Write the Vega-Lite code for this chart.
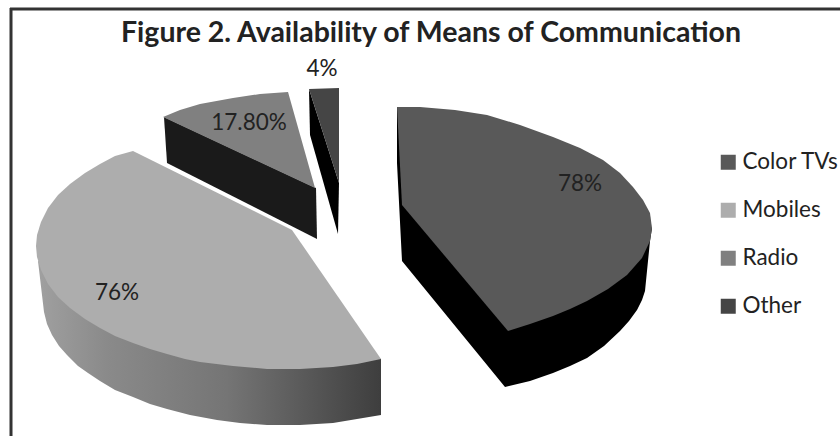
{
  "$schema": "https://vega.github.io/schema/vega-lite/v6.json",
  "width": 840,
  "height": 436,
  "padding": 0,
  "autosize": {"type": "none"},
  "background": "white",
  "view": {"stroke": null},
  "title": {
    "text": "Figure 2. Availability of Means of Communication",
    "font": "Lato",
    "fontWeight": "bold",
    "fontSize": 28.5,
    "color": "#222222",
    "anchor": "middle",
    "offset": -47,
    "dx": 11
  },
  "config": {"font": "Lato"},
  "datasets": {
    "outlines": [
      {"slice":"Color TVs","part":"side","seq":1,"x":397,"y":107},
      {"slice":"Color TVs","part":"side","seq":2,"x":397,"y":163},
      {"slice":"Color TVs","part":"side","seq":3,"x":402,"y":261},
      {"slice":"Color TVs","part":"side","seq":4,"x":505,"y":387},
      {"slice":"Color TVs","part":"side","seq":5,"x":530,"y":381},
      {"slice":"Color TVs","part":"side","seq":6,"x":553,"y":373},
      {"slice":"Color TVs","part":"side","seq":7,"x":570,"y":366},
      {"slice":"Color TVs","part":"side","seq":8,"x":587,"y":358},
      {"slice":"Color TVs","part":"side","seq":9,"x":604,"y":346},
      {"slice":"Color TVs","part":"side","seq":10,"x":620,"y":331},
      {"slice":"Color TVs","part":"side","seq":11,"x":629,"y":321},
      {"slice":"Color TVs","part":"side","seq":12,"x":637,"y":310},
      {"slice":"Color TVs","part":"side","seq":13,"x":642,"y":300},
      {"slice":"Color TVs","part":"side","seq":14,"x":645,"y":291},
      {"slice":"Color TVs","part":"side","seq":15,"x":650,"y":241},
      {"slice":"Color TVs","part":"side","seq":16,"x":652,"y":228},

      {"slice":"Color TVs","part":"top","seq":1,"x":397,"y":107},
      {"slice":"Color TVs","part":"top","seq":2,"x":420,"y":107},
      {"slice":"Color TVs","part":"top","seq":3,"x":455,"y":110},
      {"slice":"Color TVs","part":"top","seq":4,"x":487,"y":115},
      {"slice":"Color TVs","part":"top","seq":5,"x":520,"y":125},
      {"slice":"Color TVs","part":"top","seq":6,"x":553,"y":137},
      {"slice":"Color TVs","part":"top","seq":7,"x":580,"y":148},
      {"slice":"Color TVs","part":"top","seq":8,"x":603,"y":160},
      {"slice":"Color TVs","part":"top","seq":9,"x":620,"y":173},
      {"slice":"Color TVs","part":"top","seq":10,"x":633,"y":187},
      {"slice":"Color TVs","part":"top","seq":11,"x":643,"y":200},
      {"slice":"Color TVs","part":"top","seq":12,"x":650,"y":213},
      {"slice":"Color TVs","part":"top","seq":13,"x":652,"y":228},
      {"slice":"Color TVs","part":"top","seq":14,"x":650,"y":241},
      {"slice":"Color TVs","part":"top","seq":15,"x":642,"y":258},
      {"slice":"Color TVs","part":"top","seq":16,"x":627,"y":275},
      {"slice":"Color TVs","part":"top","seq":17,"x":608,"y":289},
      {"slice":"Color TVs","part":"top","seq":18,"x":587,"y":301},
      {"slice":"Color TVs","part":"top","seq":19,"x":570,"y":309},
      {"slice":"Color TVs","part":"top","seq":20,"x":553,"y":316},
      {"slice":"Color TVs","part":"top","seq":21,"x":530,"y":324},
      {"slice":"Color TVs","part":"top","seq":22,"x":508,"y":331},
      {"slice":"Color TVs","part":"top","seq":23,"x":402,"y":205},

      {"slice":"Mobiles","part":"side","seq":1,"x":38,"y":261},
      {"slice":"Mobiles","part":"side","seq":2,"x":44,"y":312},
      {"slice":"Mobiles","part":"side","seq":3,"x":47,"y":324},
      {"slice":"Mobiles","part":"side","seq":4,"x":52,"y":335},
      {"slice":"Mobiles","part":"side","seq":5,"x":59,"y":346},
      {"slice":"Mobiles","part":"side","seq":6,"x":67,"y":355},
      {"slice":"Mobiles","part":"side","seq":7,"x":78,"y":366},
      {"slice":"Mobiles","part":"side","seq":8,"x":88,"y":373},
      {"slice":"Mobiles","part":"side","seq":9,"x":100,"y":381},
      {"slice":"Mobiles","part":"side","seq":10,"x":115,"y":390},
      {"slice":"Mobiles","part":"side","seq":11,"x":133,"y":397},
      {"slice":"Mobiles","part":"side","seq":12,"x":150,"y":404},
      {"slice":"Mobiles","part":"side","seq":13,"x":167,"y":409},
      {"slice":"Mobiles","part":"side","seq":14,"x":190,"y":415},
      {"slice":"Mobiles","part":"side","seq":15,"x":217,"y":420},
      {"slice":"Mobiles","part":"side","seq":16,"x":240,"y":423},
      {"slice":"Mobiles","part":"side","seq":17,"x":267,"y":425},
      {"slice":"Mobiles","part":"side","seq":18,"x":300,"y":425},
      {"slice":"Mobiles","part":"side","seq":19,"x":333,"y":423},
      {"slice":"Mobiles","part":"side","seq":20,"x":357,"y":419},
      {"slice":"Mobiles","part":"side","seq":21,"x":381,"y":415},
      {"slice":"Mobiles","part":"side","seq":22,"x":381,"y":359},

      {"slice":"Mobiles","part":"top","seq":1,"x":133,"y":151},
      {"slice":"Mobiles","part":"top","seq":2,"x":115,"y":156},
      {"slice":"Mobiles","part":"top","seq":3,"x":100,"y":164},
      {"slice":"Mobiles","part":"top","seq":4,"x":85,"y":173},
      {"slice":"Mobiles","part":"top","seq":5,"x":70,"y":184},
      {"slice":"Mobiles","part":"top","seq":6,"x":58,"y":195},
      {"slice":"Mobiles","part":"top","seq":7,"x":48,"y":208},
      {"slice":"Mobiles","part":"top","seq":8,"x":41,"y":222},
      {"slice":"Mobiles","part":"top","seq":9,"x":37,"y":235},
      {"slice":"Mobiles","part":"top","seq":10,"x":36,"y":246},
      {"slice":"Mobiles","part":"top","seq":11,"x":37,"y":257},
      {"slice":"Mobiles","part":"top","seq":12,"x":41,"y":270},
      {"slice":"Mobiles","part":"top","seq":13,"x":48,"y":284},
      {"slice":"Mobiles","part":"top","seq":14,"x":58,"y":297},
      {"slice":"Mobiles","part":"top","seq":15,"x":70,"y":308},
      {"slice":"Mobiles","part":"top","seq":16,"x":85,"y":319},
      {"slice":"Mobiles","part":"top","seq":17,"x":100,"y":328},
      {"slice":"Mobiles","part":"top","seq":18,"x":115,"y":336},
      {"slice":"Mobiles","part":"top","seq":19,"x":133,"y":343},
      {"slice":"Mobiles","part":"top","seq":20,"x":150,"y":349},
      {"slice":"Mobiles","part":"top","seq":21,"x":167,"y":354},
      {"slice":"Mobiles","part":"top","seq":22,"x":185,"y":359},
      {"slice":"Mobiles","part":"top","seq":23,"x":200,"y":362},
      {"slice":"Mobiles","part":"top","seq":24,"x":233,"y":366},
      {"slice":"Mobiles","part":"top","seq":25,"x":267,"y":369},
      {"slice":"Mobiles","part":"top","seq":26,"x":300,"y":369},
      {"slice":"Mobiles","part":"top","seq":27,"x":333,"y":367},
      {"slice":"Mobiles","part":"top","seq":28,"x":357,"y":364},
      {"slice":"Mobiles","part":"top","seq":29,"x":381,"y":359},
      {"slice":"Mobiles","part":"top","seq":30,"x":292,"y":230},

      {"slice":"Radio","part":"side","seq":1,"x":164,"y":117},
      {"slice":"Radio","part":"side","seq":2,"x":167,"y":163},
      {"slice":"Radio","part":"side","seq":3,"x":317,"y":239},
      {"slice":"Radio","part":"side","seq":4,"x":316,"y":188},

      {"slice":"Radio","part":"top","seq":1,"x":163,"y":117},
      {"slice":"Radio","part":"top","seq":2,"x":180,"y":110},
      {"slice":"Radio","part":"top","seq":3,"x":200,"y":104},
      {"slice":"Radio","part":"top","seq":4,"x":233,"y":98},
      {"slice":"Radio","part":"top","seq":5,"x":260,"y":94},
      {"slice":"Radio","part":"top","seq":6,"x":288,"y":92},
      {"slice":"Radio","part":"top","seq":7,"x":315,"y":188},

      {"slice":"Other","part":"side","seq":1,"x":309,"y":89},
      {"slice":"Other","part":"side","seq":2,"x":310,"y":135},
      {"slice":"Other","part":"side","seq":3,"x":338,"y":234},
      {"slice":"Other","part":"side","seq":4,"x":339,"y":183},

      {"slice":"Other","part":"top","seq":1,"x":309,"y":89},
      {"slice":"Other","part":"top","seq":2,"x":339,"y":88},
      {"slice":"Other","part":"top","seq":3,"x":339,"y":183}
    ],
    "shares": [
      {"slice":"Color TVs","value":78,"label":"78%","x":580,"y":184},
      {"slice":"Mobiles","value":76,"label":"76%","x":117,"y":293},
      {"slice":"Radio","value":17.8,"label":"17.80%","x":249,"y":123},
      {"slice":"Other","value":4,"label":"4%","x":322,"y":69}
    ]
  },
  "encoding": {
    "x": {"field":"x","type":"quantitative","scale":{"domain":[0,840],"nice":false,"zero":false},"axis":null},
    "y": {"field":"y","type":"quantitative","scale":{"domain":[436,0],"nice":false,"zero":false},"axis":null}
  },
  "layer": [
    {
      "data": {"values": [{"x":11,"y":8,"y2":436}]},
      "mark": {"type":"rule","stroke":"#333333","strokeWidth":3},
      "encoding": {"y2":{"field":"y2"}}
    },
    {
      "data": {"values": [{"x":10,"x2":840,"y":9}]},
      "mark": {"type":"rule","stroke":"#333333","strokeWidth":3},
      "encoding": {"x2":{"field":"x2"}}
    },
    {
      "data": {"name":"outlines"},
      "transform": [{"filter":"datum.part === 'side' && datum.slice === 'Radio'"}],
      "mark": {"type":"line","fill":"#1a1a1a","stroke":null},
      "encoding": {"order":{"field":"seq","type":"quantitative"}}
    },
    {
      "data": {"name":"outlines"},
      "transform": [{"filter":"datum.part === 'side' && (datum.slice === 'Other' || datum.slice === 'Color TVs')"}],
      "mark": {"type":"line","fill":"#000000","stroke":null},
      "encoding": {"detail":{"field":"slice"},"order":{"field":"seq","type":"quantitative"}}
    },
    {
      "data": {"name":"outlines"},
      "transform": [{"filter":"datum.part === 'side' && datum.slice === 'Mobiles'"}],
      "mark": {
        "type":"line",
        "stroke":null,
        "fill":{
          "gradient":"linear","x1":0,"y1":0,"x2":1,"y2":0,
          "stops":[
            {"offset":0,"color":"#a0a0a0"},
            {"offset":0.2,"color":"#8a8a8a"},
            {"offset":0.55,"color":"#757575"},
            {"offset":1,"color":"#3e3e3e"}
          ]
        }
      },
      "encoding": {"order":{"field":"seq","type":"quantitative"}}
    },
    {
      "data": {"name":"outlines"},
      "transform": [{"filter":"datum.part === 'top'"}],
      "mark": {"type":"line","stroke":null},
      "encoding": {
        "order":{"field":"seq","type":"quantitative"},
        "fill":{
          "field":"slice","type":"nominal",
          "scale":{"domain":["Color TVs","Mobiles","Radio","Other"],"range":["#595959","#adadad","#808080","#454545"]},
          "legend":{
            "orient":"none","legendX":717,"legendY":151,"title":null,
            "symbolType":"square","symbolSize":225,"symbolStrokeWidth":0,
            "labelFont":"Lato","labelFontSize":22.5,"labelColor":"#222222","labelOffset":3,
            "rowPadding":25,"labelLimit":140
          }
        }
      }
    },
    {
      "data": {"name":"shares"},
      "mark": {"type":"text","font":"Lato","fontSize":22.5,"color":"#222222","align":"center","baseline":"middle"},
      "encoding": {"text":{"field":"label","type":"nominal"}}
    }
  ]
}
